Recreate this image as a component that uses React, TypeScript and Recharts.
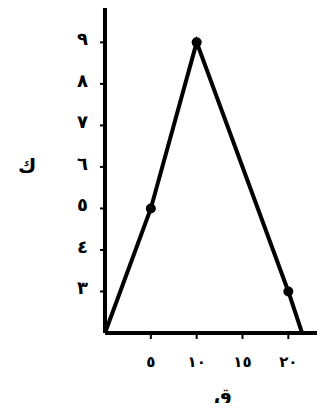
import React from 'react';
import { LineChart, Line, XAxis, YAxis, Label } from 'recharts';

// قيم المنحنى (ق ، ك)
const qValues = [0, 5, 10, 20, 21.5];
const kValues = [2, 5, 9, 3, 2];
const markedPoints = [false, true, true, true, false];

const xTicks = [5, 10, 15, 20];
const yTicks = [3, 4, 5, 6, 7, 8, 9];

const toArabic = (n: number) =>
  String(n).replace(/[0-9]/g, (d) => '٠١٢٣٤٥٦٧٨٩'[Number(d)]);

const data = qValues.map((q, i) => ({ q, k: kValues[i], mark: markedPoints[i] }));

const FONT = '"DejaVu Sans", "Noto Sans", sans-serif';

const XTick = ({ x, y, payload }: any) => (
  <g>
    <line x1={x} y1={y - 6} x2={x} y2={y - 2} stroke="#000" strokeWidth={2} />
    <text x={x} y={y + 26} textAnchor="middle" fontSize={15} fontWeight="bold" fontFamily={FONT} fill="#000">
      {toArabic(payload.value)}
    </text>
  </g>
);

const YTick = ({ x, y, payload }: any) => (
  <g>
    <line x1={x + 3} y1={y} x2={x + 8} y2={y} stroke="#000" strokeWidth={2} />
    <text x={x - 9} y={y + 3} textAnchor="end" fontSize={18} fontWeight="bold" fontFamily={FONT} fill="#000">
      {toArabic(payload.value)}
    </text>
  </g>
);

const Dot = ({ cx, cy, payload }: any) =>
  payload.mark ? <circle cx={cx} cy={cy} r={5} fill="#000" /> : null;

export default function App() {
  return (
    <div style={{ margin: -8, width: 325, height: 411, background: '#fff' }}>
      <LineChart width={325} height={411} data={data} margin={{ top: 5, right: 0, left: 0, bottom: 38 }}>
        <XAxis
          dataKey="q"
          type="number"
          domain={[0, 24]}
          ticks={xTicks}
          tick={<XTick />}
          tickLine={false}
          axisLine={{ stroke: '#000', strokeWidth: 4 }}
          height={40}
        >
          <Label
            value="ق"
            position="insideBottom"
            offset={-30}
            dx={8}
            fontSize={20}
            fontWeight="bold"
            fontFamily={FONT}
            fill="#000"
          />
        </XAxis>
        <YAxis
          dataKey="k"
          type="number"
          domain={[2, 9.9]}
          ticks={yTicks}
          tick={<YTick />}
          tickLine={false}
          axisLine={{ stroke: '#000', strokeWidth: 4 }}
          width={105}
        >
          <Label
            value="ك"
            position="insideLeft"
            offset={18}
            dy={-3}
            fontSize={20}
            fontWeight="bold"
            fontFamily={FONT}
            fill="#000"
          />
        </YAxis>
        <Line
          dataKey="k"
          stroke="#000"
          strokeWidth={4}
          dot={<Dot />}
          activeDot={false}
          isAnimationActive={false}
        />
      </LineChart>
    </div>
  );
}
